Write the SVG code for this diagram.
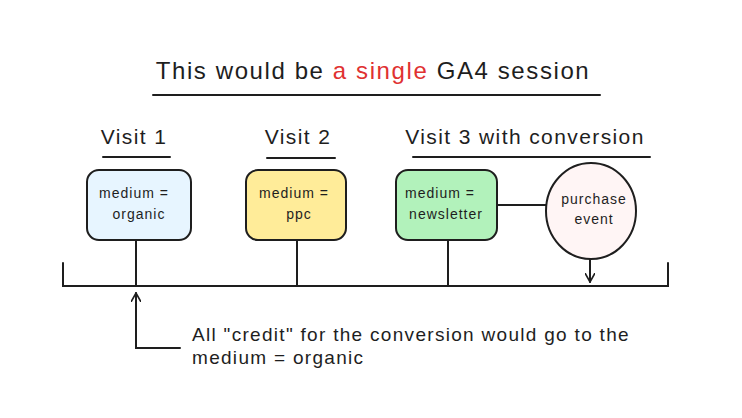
<svg xmlns="http://www.w3.org/2000/svg" width="742" height="418" viewBox="0 0 742 418">
<defs>
<style>
text{font-family:"Liberation Sans","DejaVu Sans",sans-serif;fill:#1e1e1e}
.t{font-size:24px;text-anchor:middle;letter-spacing:1.6px}
.h{font-size:21px;text-anchor:middle;letter-spacing:1.4px}
.n{font-size:14px;text-anchor:middle;letter-spacing:1px}
.l{stroke:#1e1e1e;stroke-width:2;fill:none;stroke-linecap:round}
.b{stroke:#1e1e1e;stroke-width:2}
</style>
<marker id="ar" viewBox="0 0 10 10" refX="9" refY="5" markerWidth="10" markerHeight="10" orient="auto" markerUnits="userSpaceOnUse"><path d="M0,0 L9,5 L0,10" fill="none" stroke="#1e1e1e" stroke-width="1.6"/></marker>
</defs>
<rect width="742" height="418" fill="#fff"/>
<g id="title">
<text class="t" x="373" y="79">This would be <tspan fill="#e03131">a single</tspan> GA4 session</text>
<line class="l" x1="153" y1="95" x2="600" y2="95"/>
</g>
<g id="visit1"><text class="h" x="134" y="144">Visit 1</text><line class="l" x1="103" y1="157" x2="170" y2="157"/></g>
<g id="visit2"><text class="h" x="298" y="144">Visit 2</text><line class="l" x1="267" y1="158" x2="335" y2="158"/></g>
<g id="visit3"><text class="h" x="525" y="144">Visit 3 with conversion</text><line class="l" x1="413" y1="157" x2="650" y2="157"/></g>
<g id="connectors">
<path class="l" d="M63,263 V286 H668 V263"/>
<line class="l" x1="136" y1="240" x2="136" y2="286"/>
<line class="l" x1="297" y1="240" x2="297" y2="286"/>
<line class="l" x1="448" y1="240" x2="448" y2="286"/>
<line class="l" x1="497" y1="205" x2="546" y2="205"/>
<line class="l" x1="590" y1="259" x2="590" y2="282" marker-end="url(#ar)"/>
<path class="l" d="M180,348 H136 V293" marker-end="url(#ar)"/>
</g>
<g id="organic"><rect class="b" x="87" y="170" width="104" height="70" rx="12" fill="#e7f5ff"/><text class="n" x="134" y="198">medium =</text><text class="n" x="139" y="219">organic</text></g>
<g id="ppc"><rect class="b" x="246" y="170" width="100" height="70" rx="12" fill="#ffec99"/><text class="n" x="294" y="198">medium =</text><text class="n" x="299" y="219">ppc</text></g>
<g id="newsletter"><rect class="b" x="396" y="170" width="101" height="70" rx="12" fill="#b2f2bb"/><text class="n" x="440" y="198">medium =</text><text class="n" x="446" y="219">newsletter</text></g>
<g id="purchase"><ellipse class="b" cx="591" cy="211" rx="45" ry="48" fill="#fff5f5"/><text class="n" x="594" y="204">purchase</text><text class="n" x="594" y="224">event</text></g>
<g id="note"><text x="192" y="341" font-size="19" letter-spacing="1.3">All "credit" for the conversion would go to the</text><text x="192" y="364" font-size="19" letter-spacing="1.3">medium = organic</text></g>
</svg>
